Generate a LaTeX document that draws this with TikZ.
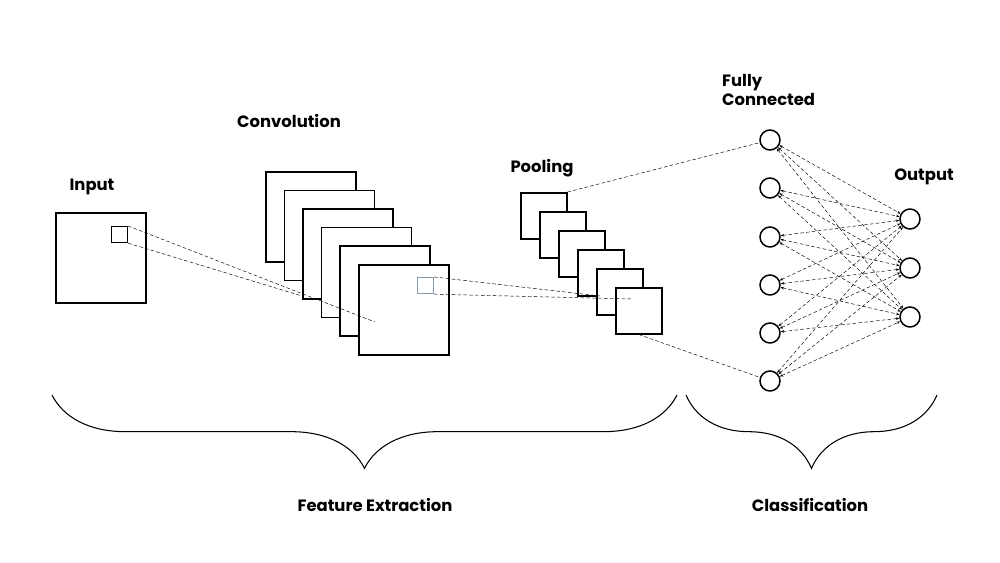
\documentclass[tikz,border=0pt]{standalone}
\usepackage{fontspec}
\setmainfont{Poppins}
\usetikzlibrary{arrows.meta,decorations.pathreplacing}
\definecolor{kernelcol}{HTML}{8899AA}

\begin{document}
\begin{tikzpicture}[x=0.03cm, y=-0.03cm,
  fmap/.style={draw, line width=1.3pt, fill=white, anchor=north west, inner sep=0pt},
  neuron/.style={circle, draw, line width=1.3pt, fill=white, minimum size=20*0.03cm, inner sep=0pt},
  dashln/.style={thin, dash pattern=on 3pt off 2pt},
  link/.style={dashln, {Stealth[length=3pt]}-{Stealth[length=3pt]}},
  lbl/.style={font=\fontsize{14}{16}\selectfont\bfseries, align=left},
  grp/.style={decorate, decoration={brace, mirror, amplitude=2.2cm}, line width=0.9pt}
]
  \useasboundingbox (0,0) rectangle (1000,563);
  % input
  \node[fmap, minimum size=90*0.03cm] (in) at (55,212) {};
  \node[fmap, minimum size=16*0.03cm, line width=1pt] (inK) at (111,226) {};
  % convolution maps
  \foreach \i in {0,...,5}
    \node[fmap, minimum size=90*0.03cm] (conv\i) at (265+18.6*\i,171+18.6*\i) {};
  \node[fmap, minimum size=16*0.03cm, line width=1pt, draw=kernelcol] (convK) at (417,277) {};
  % pooling maps
  \foreach \i in {0,...,5}
    \node[fmap, minimum size=46*0.03cm] (pool\i) at (520+19*\i,192+19*\i) {};
  \coordinate (c1) at (375,322);
  \coordinate (c2) at (302,296);
  \coordinate (p1) at (632,299);
  \coordinate (p2) at (600,296);
  \draw[dashln] (inK.north east) -- (c1);
  \draw[dashln] (inK.south east) -- (c2);
  \draw[dashln] (convK.north east) -- (p2);
  \draw[dashln] (convK.south east) -- (p1);
  % fully connected + output
  \foreach \y [count=\k] in {140,188,237,285,333,381}
    \node[neuron] (fc\k) at (770,\y) {};
  \foreach \y [count=\k] in {219,268,317}
    \node[neuron] (out\k) at (910,\y) {};
  \foreach \a in {1,...,6}
    \foreach \b in {1,2,3}
      \draw[link] (fc\a) -- (out\b);
  \draw[dashln] (pool0.north east) -- (fc1);
  \draw[dashln] (pool5.south) -- (fc6);
  % labels
  \node[lbl] (tIn) at (92,187) {Input};
  \node[lbl] (tConv) at (289,121) {Convolution};
  \node[lbl] (tPool) at (542,168) {Pooling};
  \node[lbl, anchor=west] (tFc) at (718,90) {Fully\\Connected};
  \node[lbl] (tOut) at (924,177) {Output};
  % groups
  \draw[grp] (52,395) -- (677,395);
  \draw[grp] (686,395) -- (937,395);
  \node[lbl] (tFe) at (375,505) {Feature Extraction};
  \node[lbl] (tCl) at (810,505) {Classification};
\end{tikzpicture}
\end{document}
